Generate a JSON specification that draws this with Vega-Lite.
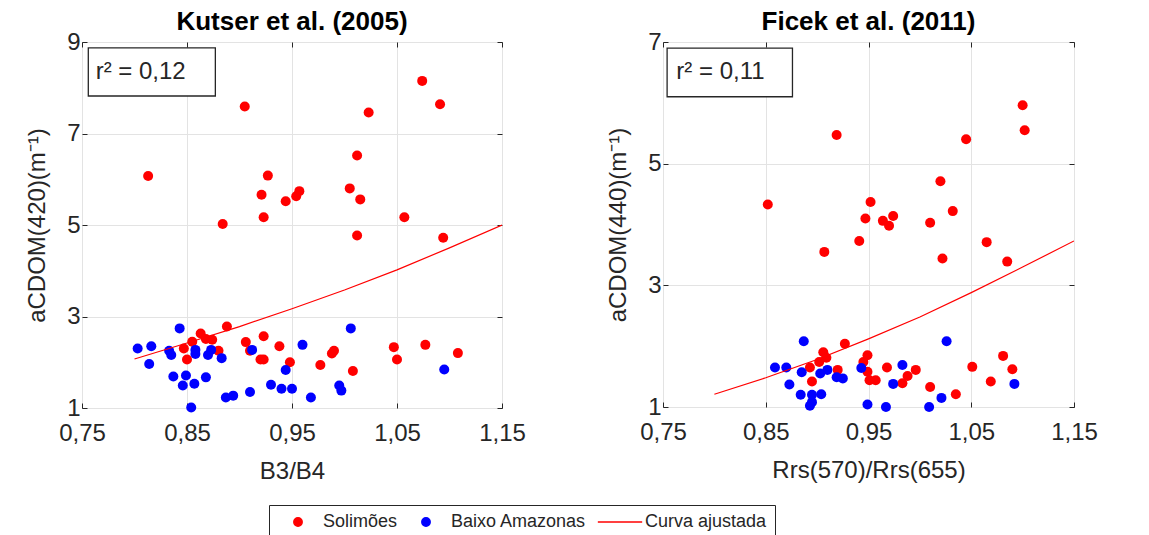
{
  "$schema": "https://vega.github.io/schema/vega-lite/v6.json",
  "background": "white",
  "padding": {"left": 25, "top": 8, "right": 5, "bottom": 0},
  "spacing": 80,
  "config": {
    "font": "Liberation Sans",
    "view": {"stroke": "#262626", "strokeWidth": 1},
    "axis": {
      "labelFont": "Liberation Sans", "labelFontSize": 24, "labelColor": "#262626",
      "titleFont": "Liberation Sans", "titleFontSize": 24, "titleFontWeight": "normal", "titleColor": "#262626",
      "gridColor": "#e3e3e3", "domain": false, "tickColor": "#262626", "tickSize": -5,
      "labelFlush": false, "labelOverlap": false
    },
    "axisBottom": {"labelPadding": 18, "titlePadding": 14},
    "axisLeft": {"labelPadding": 7, "titlePadding": 17},
    "axisTop": {"labelPadding": 0, "titlePadding": 0},
    "axisRight": {"labelPadding": 0, "titlePadding": 0},
    "title": {"fontSize": 26, "fontWeight": "bold", "color": "#000000", "font": "Liberation Sans", "offset": -5},
    "legend": {
      "orient": "none", "legendX": 187, "legendY": 463, "direction": "horizontal",
      "strokeColor": "#262626", "fillColor": "white", "padding": 8,
      "labelFont": "Liberation Sans", "labelFontSize": 18, "labelColor": "#262626",
      "symbolSize": 70, "symbolOffset": 12, "columnPadding": 7, "labelOffset": 16, "title": null
    }
  },
  "datasets": {
    "kutserPts": [
      {"g":"Solimões","x":0.813,"y":6.07},{"g":"Solimões","x":0.905,"y":7.59},{"g":"Solimões","x":0.884,"y":5.02},{"g":"Solimões","x":0.927,"y":6.08},{"g":"Solimões","x":0.921,"y":5.66},{"g":"Solimões","x":0.923,"y":5.17},{"g":"Solimões","x":0.944,"y":5.52},{"g":"Solimões","x":0.954,"y":5.63},{"g":"Solimões","x":0.957,"y":5.74},{"g":"Solimões","x":1.005,"y":5.80},{"g":"Solimões","x":1.012,"y":6.52},{"g":"Solimões","x":1.015,"y":5.56},{"g":"Solimões","x":1.012,"y":4.77},{"g":"Solimões","x":1.023,"y":7.46},{"g":"Solimões","x":1.057,"y":5.17},{"g":"Solimões","x":1.074,"y":8.15},{"g":"Solimões","x":1.091,"y":7.64},{"g":"Solimões","x":1.094,"y":4.72},
      {"g":"Solimões","x":0.847,"y":2.30},{"g":"Solimões","x":0.850,"y":2.06},{"g":"Solimões","x":0.855,"y":2.45},{"g":"Solimões","x":0.863,"y":2.63},{"g":"Solimões","x":0.868,"y":2.51},{"g":"Solimões","x":0.874,"y":2.49},{"g":"Solimões","x":0.880,"y":2.25},{"g":"Solimões","x":0.888,"y":2.78},{"g":"Solimões","x":0.906,"y":2.44},{"g":"Solimões","x":0.910,"y":2.25},{"g":"Solimões","x":0.920,"y":2.06},{"g":"Solimões","x":0.923,"y":2.06},{"g":"Solimões","x":0.923,"y":2.57},{"g":"Solimões","x":0.938,"y":2.35},{"g":"Solimões","x":0.948,"y":2.00},{"g":"Solimões","x":0.977,"y":1.94},{"g":"Solimões","x":0.988,"y":2.19},{"g":"Solimões","x":0.990,"y":2.25},{"g":"Solimões","x":1.008,"y":1.81},{"g":"Solimões","x":1.047,"y":2.33},{"g":"Solimões","x":1.050,"y":2.06},{"g":"Solimões","x":1.077,"y":2.38},{"g":"Solimões","x":1.108,"y":2.20},
      {"g":"Baixo Amazonas","x":0.803,"y":2.30},{"g":"Baixo Amazonas","x":0.816,"y":2.35},{"g":"Baixo Amazonas","x":0.814,"y":1.96},{"g":"Baixo Amazonas","x":0.833,"y":2.25},{"g":"Baixo Amazonas","x":0.835,"y":2.16},{"g":"Baixo Amazonas","x":0.843,"y":2.74},{"g":"Baixo Amazonas","x":0.837,"y":1.69},{"g":"Baixo Amazonas","x":0.849,"y":1.71},{"g":"Baixo Amazonas","x":0.846,"y":1.49},{"g":"Baixo Amazonas","x":0.858,"y":2.27},{"g":"Baixo Amazonas","x":0.858,"y":2.18},{"g":"Baixo Amazonas","x":0.857,"y":1.53},{"g":"Baixo Amazonas","x":0.854,"y":1.01},{"g":"Baixo Amazonas","x":0.868,"y":1.67},{"g":"Baixo Amazonas","x":0.870,"y":2.16},{"g":"Baixo Amazonas","x":0.873,"y":2.27},{"g":"Baixo Amazonas","x":0.883,"y":2.09},{"g":"Baixo Amazonas","x":0.887,"y":1.23},{"g":"Baixo Amazonas","x":0.894,"y":1.27},{"g":"Baixo Amazonas","x":0.910,"y":1.35},{"g":"Baixo Amazonas","x":0.912,"y":2.27},{"g":"Baixo Amazonas","x":0.930,"y":1.51},{"g":"Baixo Amazonas","x":0.940,"y":1.42},{"g":"Baixo Amazonas","x":0.944,"y":1.83},{"g":"Baixo Amazonas","x":0.950,"y":1.42},{"g":"Baixo Amazonas","x":0.960,"y":2.38},{"g":"Baixo Amazonas","x":0.968,"y":1.23},{"g":"Baixo Amazonas","x":0.995,"y":1.49},{"g":"Baixo Amazonas","x":0.997,"y":1.38},{"g":"Baixo Amazonas","x":1.006,"y":2.74},{"g":"Baixo Amazonas","x":1.095,"y":1.84}
    ],
    "kutserFit": [
      {"g":"Curva ajustada","x":0.80,"y":2.07},{"g":"Curva ajustada","x":0.85,"y":2.42},{"g":"Curva ajustada","x":0.90,"y":2.78},{"g":"Curva ajustada","x":0.95,"y":3.17},{"g":"Curva ajustada","x":1.00,"y":3.58},{"g":"Curva ajustada","x":1.05,"y":4.02},{"g":"Curva ajustada","x":1.10,"y":4.50},{"g":"Curva ajustada","x":1.15,"y":5.00}
    ],
    "kutserNote": [{"label":"r² = 0,12"}],
    "ficekPts": [
      {"g":"Solimões","x":0.852,"y":4.33},{"g":"Solimões","x":0.919,"y":5.47},{"g":"Solimões","x":0.907,"y":3.55},{"g":"Solimões","x":0.941,"y":3.73},{"g":"Solimões","x":0.947,"y":4.10},{"g":"Solimões","x":0.952,"y":4.37},{"g":"Solimões","x":0.964,"y":4.06},{"g":"Solimões","x":0.970,"y":3.98},{"g":"Solimões","x":0.974,"y":4.14},{"g":"Solimões","x":1.010,"y":4.03},{"g":"Solimões","x":1.020,"y":4.71},{"g":"Solimões","x":1.022,"y":3.44},{"g":"Solimões","x":1.032,"y":4.22},{"g":"Solimões","x":1.045,"y":5.40},{"g":"Solimões","x":1.065,"y":3.71},{"g":"Solimões","x":1.085,"y":3.39},{"g":"Solimões","x":1.100,"y":5.96},{"g":"Solimões","x":1.102,"y":5.55},
      {"g":"Solimões","x":0.893,"y":1.65},{"g":"Solimões","x":0.895,"y":1.42},{"g":"Solimões","x":0.902,"y":1.74},{"g":"Solimões","x":0.906,"y":1.90},{"g":"Solimões","x":0.909,"y":1.81},{"g":"Solimões","x":0.920,"y":1.61},{"g":"Solimões","x":0.927,"y":2.04},{"g":"Solimões","x":0.945,"y":1.74},{"g":"Solimões","x":0.949,"y":1.85},{"g":"Solimões","x":0.949,"y":1.58},{"g":"Solimões","x":0.951,"y":1.44},{"g":"Solimões","x":0.957,"y":1.44},{"g":"Solimões","x":0.968,"y":1.65},{"g":"Solimões","x":0.983,"y":1.39},{"g":"Solimões","x":0.988,"y":1.51},{"g":"Solimões","x":0.996,"y":1.61},{"g":"Solimões","x":1.010,"y":1.33},{"g":"Solimões","x":1.035,"y":1.21},{"g":"Solimões","x":1.051,"y":1.66},{"g":"Solimões","x":1.069,"y":1.42},{"g":"Solimões","x":1.081,"y":1.84},{"g":"Solimões","x":1.090,"y":1.62},
      {"g":"Baixo Amazonas","x":0.859,"y":1.65},{"g":"Baixo Amazonas","x":0.870,"y":1.65},{"g":"Baixo Amazonas","x":0.873,"y":1.37},{"g":"Baixo Amazonas","x":0.887,"y":2.08},{"g":"Baixo Amazonas","x":0.885,"y":1.57},{"g":"Baixo Amazonas","x":0.884,"y":1.20},{"g":"Baixo Amazonas","x":0.895,"y":1.20},{"g":"Baixo Amazonas","x":0.904,"y":1.21},{"g":"Baixo Amazonas","x":0.893,"y":1.02},{"g":"Baixo Amazonas","x":0.895,"y":1.08},{"g":"Baixo Amazonas","x":0.903,"y":1.55},{"g":"Baixo Amazonas","x":0.910,"y":1.61},{"g":"Baixo Amazonas","x":0.919,"y":1.49},{"g":"Baixo Amazonas","x":0.925,"y":1.47},{"g":"Baixo Amazonas","x":0.943,"y":1.64},{"g":"Baixo Amazonas","x":0.949,"y":1.04},{"g":"Baixo Amazonas","x":0.967,"y":1.00},{"g":"Baixo Amazonas","x":0.974,"y":1.38},{"g":"Baixo Amazonas","x":0.983,"y":1.69},{"g":"Baixo Amazonas","x":1.009,"y":1.00},{"g":"Baixo Amazonas","x":1.021,"y":1.15},{"g":"Baixo Amazonas","x":1.026,"y":2.08},{"g":"Baixo Amazonas","x":1.092,"y":1.38}
    ],
    "ficekFit": [
      {"g":"Curva ajustada","x":0.80,"y":1.21},{"g":"Curva ajustada","x":0.85,"y":1.48},{"g":"Curva ajustada","x":0.90,"y":1.78},{"g":"Curva ajustada","x":0.95,"y":2.12},{"g":"Curva ajustada","x":1.00,"y":2.48},{"g":"Curva ajustada","x":1.05,"y":2.88},{"g":"Curva ajustada","x":1.10,"y":3.30},{"g":"Curva ajustada","x":1.15,"y":3.73}
    ],
    "ficekNote": [{"label":"r² = 0,11"}]
  },
  "hconcat": [
    {
      "title": "Kutser et al. (2005)",
      "width": 420, "height": 366,
      "resolve": {"axis": {"x": "independent", "y": "independent"}},
      "layer": [
        {
          "data": {"name": "kutserPts"},
          "mark": {"type": "point", "filled": true, "opacity": 1, "size": 100},
          "encoding": {
            "x": {"field": "x", "type": "quantitative", "scale": {"domain": [0.75, 1.15], "nice": false, "zero": false},
                  "axis": {"title": "B3/B4", "values": [0.75, 0.85, 0.95, 1.05, 1.15], "labelExpr": "replace(format(datum.value, '.2f'), '.', ',')"}},
            "y": {"field": "y", "type": "quantitative", "scale": {"domain": [1, 9], "nice": false, "zero": false},
                  "axis": {"title": "aCDOM(420)(m⁻¹)", "values": [1, 3, 5, 7, 9], "format": "d"}},
            "color": {"field": "g", "type": "nominal",
                      "scale": {"domain": ["Solimões", "Baixo Amazonas", "Curva ajustada"], "range": ["#ff0000", "#0000ff", "#ff0000"]},
                      "legend": {"encode": {"symbols": {"update": {"stroke": {"scale": "color", "field": "value"}, "strokeWidth": {"value": 1}, "opacity": {"value": 1}}}}}},
            "shape": {"field": "g", "type": "nominal",
                      "scale": {"domain": ["Solimões", "Baixo Amazonas", "Curva ajustada"], "range": ["circle", "circle", "M-5.3,0L5.3,0"]}}
          }
        },
        {
          "data": {"name": "kutserFit"},
          "mark": {"type": "line", "strokeWidth": 1.2, "clip": true},
          "encoding": {
            "x": {"field": "x", "type": "quantitative", "axis": {"orient": "top", "values": [0.75, 0.85, 0.95, 1.05, 1.15], "labels": false, "grid": false, "title": null}},
            "y": {"field": "y", "type": "quantitative", "axis": {"orient": "right", "values": [1, 3, 5, 7, 9], "labels": false, "grid": false, "title": null}},
            "color": {"field": "g", "type": "nominal"}
          }
        },
        {
          "data": {"name": "kutserNote"},
          "mark": {"type": "rect", "fill": "white", "stroke": "#262626", "strokeWidth": 1.3},
          "encoding": {"x": {"datum": 0.756, "axis": null}, "x2": {"datum": 0.877}, "y": {"datum": 8.87, "axis": null}, "y2": {"datum": 7.82}}
        },
        {
          "data": {"name": "kutserNote"},
          "mark": {"type": "text", "align": "left", "baseline": "middle", "fontSize": 24, "font": "Liberation Sans", "color": "#262626"},
          "encoding": {"x": {"datum": 0.763, "axis": null}, "y": {"datum": 8.34, "axis": null}, "text": {"field": "label"}}
        }
      ]
    },
    {
      "title": "Ficek et al. (2011)",
      "width": 411, "height": 365,
      "resolve": {"axis": {"x": "independent", "y": "independent"}},
      "layer": [
        {
          "data": {"name": "ficekPts"},
          "mark": {"type": "point", "filled": true, "opacity": 1, "size": 100},
          "encoding": {
            "x": {"field": "x", "type": "quantitative", "scale": {"domain": [0.75, 1.15], "nice": false, "zero": false},
                  "axis": {"title": "Rrs(570)/Rrs(655)", "values": [0.75, 0.85, 0.95, 1.05, 1.15], "labelExpr": "replace(format(datum.value, '.2f'), '.', ',')"}},
            "y": {"field": "y", "type": "quantitative", "scale": {"domain": [1, 7], "nice": false, "zero": false},
                  "axis": {"title": "aCDOM(440)(m⁻¹)", "values": [1, 3, 5, 7], "format": "d"}},
            "color": {"field": "g", "type": "nominal",
                      "scale": {"domain": ["Solimões", "Baixo Amazonas", "Curva ajustada"], "range": ["#ff0000", "#0000ff", "#ff0000"]},
                      "legend": {"encode": {"symbols": {"update": {"stroke": {"scale": "color", "field": "value"}, "strokeWidth": {"value": 1}, "opacity": {"value": 1}}}}}},
            "shape": {"field": "g", "type": "nominal",
                      "scale": {"domain": ["Solimões", "Baixo Amazonas", "Curva ajustada"], "range": ["circle", "circle", "M-5.3,0L5.3,0"]}}
          }
        },
        {
          "data": {"name": "ficekFit"},
          "mark": {"type": "line", "strokeWidth": 1.2, "clip": true},
          "encoding": {
            "x": {"field": "x", "type": "quantitative", "axis": {"orient": "top", "values": [0.75, 0.85, 0.95, 1.05, 1.15], "labels": false, "grid": false, "title": null}},
            "y": {"field": "y", "type": "quantitative", "axis": {"orient": "right", "values": [1, 3, 5, 7], "labels": false, "grid": false, "title": null}},
            "color": {"field": "g", "type": "nominal"}
          }
        },
        {
          "data": {"name": "ficekNote"},
          "mark": {"type": "rect", "fill": "white", "stroke": "#262626", "strokeWidth": 1.3},
          "encoding": {"x": {"datum": 0.754, "axis": null}, "x2": {"datum": 0.876}, "y": {"datum": 6.90, "axis": null}, "y2": {"datum": 6.10}}
        },
        {
          "data": {"name": "ficekNote"},
          "mark": {"type": "text", "align": "left", "baseline": "middle", "fontSize": 24, "font": "Liberation Sans", "color": "#262626"},
          "encoding": {"x": {"datum": 0.763, "axis": null}, "y": {"datum": 6.5, "axis": null}, "text": {"field": "label"}}
        }
      ]
    }
  ]
}
